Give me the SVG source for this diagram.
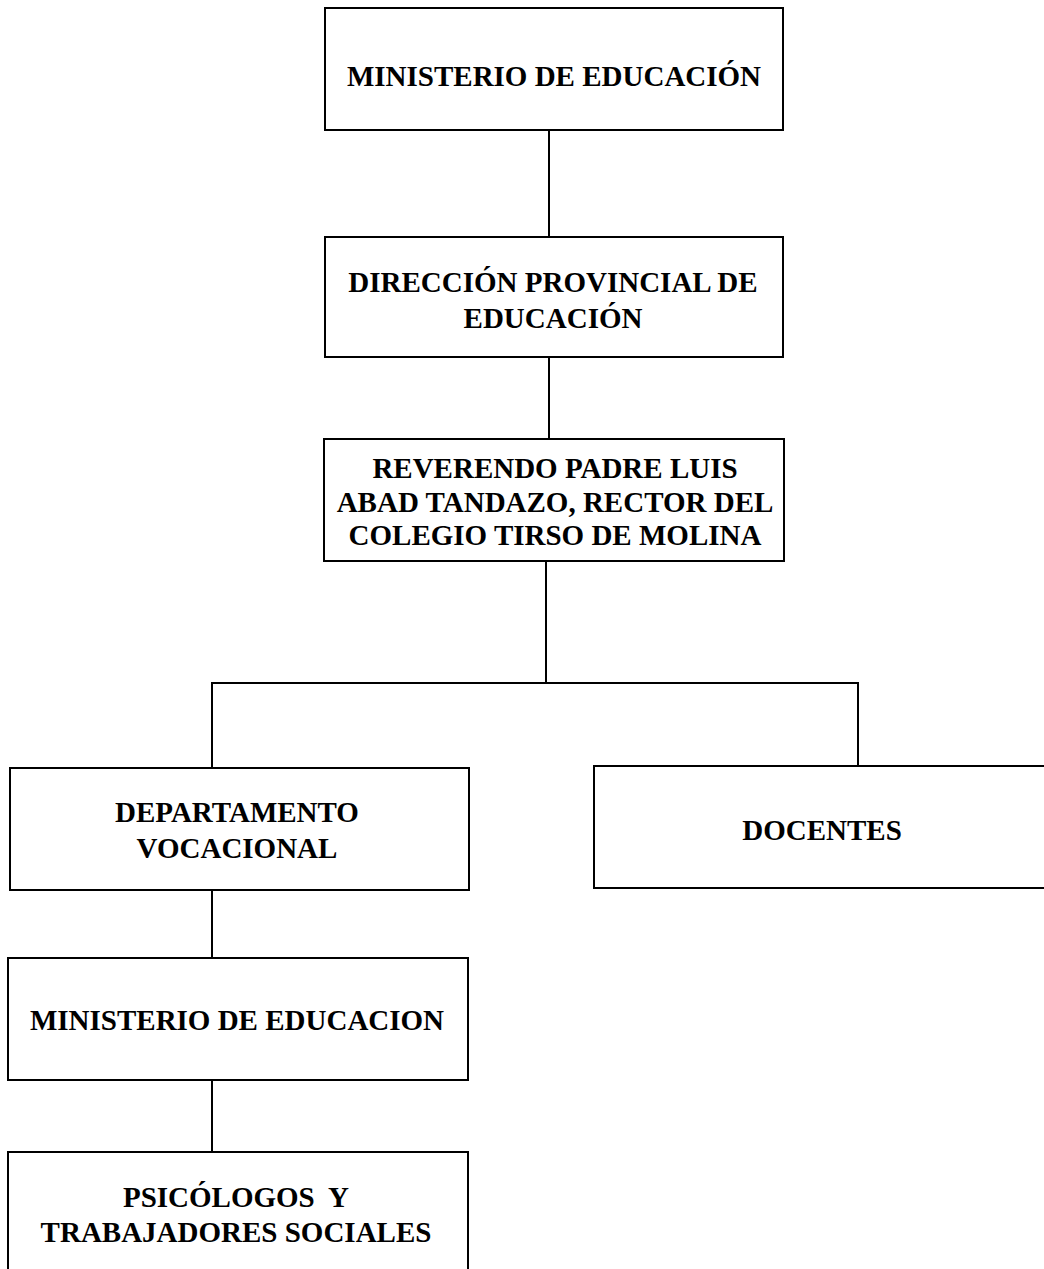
<svg xmlns="http://www.w3.org/2000/svg" width="1044" height="1269" viewBox="0 0 1044 1269">
<style>
.box{fill:#fff;stroke:#000;stroke-width:2}
.ln{stroke:#000;stroke-width:2;fill:none}
text{font-family:"Liberation Serif","Times New Roman",serif;font-weight:bold;font-size:29px;fill:#000;text-anchor:middle;white-space:pre}
</style>
<rect width="1044" height="1269" fill="#fff"/>
<g id="connectors">
<line class="ln" x1="549" y1="130" x2="549" y2="237"/>
<line class="ln" x1="549" y1="357" x2="549" y2="439"/>
<line class="ln" x1="546" y1="561" x2="546" y2="683"/>
<line class="ln" x1="211" y1="683" x2="859" y2="683"/>
<line class="ln" x1="212" y1="683" x2="212" y2="768"/>
<line class="ln" x1="858" y1="683" x2="858" y2="766"/>
<line class="ln" x1="212" y1="890" x2="212" y2="958"/>
<line class="ln" x1="212" y1="1080" x2="212" y2="1152"/>
</g>
<g id="n1">
<rect class="box" x="325" y="8" width="458" height="122"/>
<text x="554" y="86">MINISTERIO DE EDUCACIÓN</text>
</g>
<g id="n2">
<rect class="box" x="325" y="237" width="458" height="120"/>
<text x="553" y="292">DIRECCIÓN PROVINCIAL DE</text>
<text x="553" y="328">EDUCACIÓN</text>
</g>
<g id="n3">
<rect class="box" x="324" y="439" width="460" height="122"/>
<text x="555" y="478">REVERENDO PADRE LUIS</text>
<text x="555" y="512">ABAD TANDAZO, RECTOR DEL</text>
<text x="555" y="545">COLEGIO TIRSO DE MOLINA</text>
</g>
<g id="n4">
<rect class="box" x="10" y="768" width="459" height="122"/>
<text x="237" y="822">DEPARTAMENTO</text>
<text x="237" y="858">VOCACIONAL</text>
</g>
<g id="n5">
<rect class="box" x="594" y="766" width="460" height="122"/>
<text x="822" y="840">DOCENTES</text>
</g>
<g id="n6">
<rect class="box" x="8" y="958" width="460" height="122"/>
<text x="237" y="1030">MINISTERIO DE EDUCACION</text>
</g>
<g id="n7">
<rect class="box" x="8" y="1152" width="460" height="130"/>
<text x="236" y="1207">PSICÓLOGOS  Y</text>
<text x="236" y="1242">TRABAJADORES SOCIALES</text>
</g>
</svg>
